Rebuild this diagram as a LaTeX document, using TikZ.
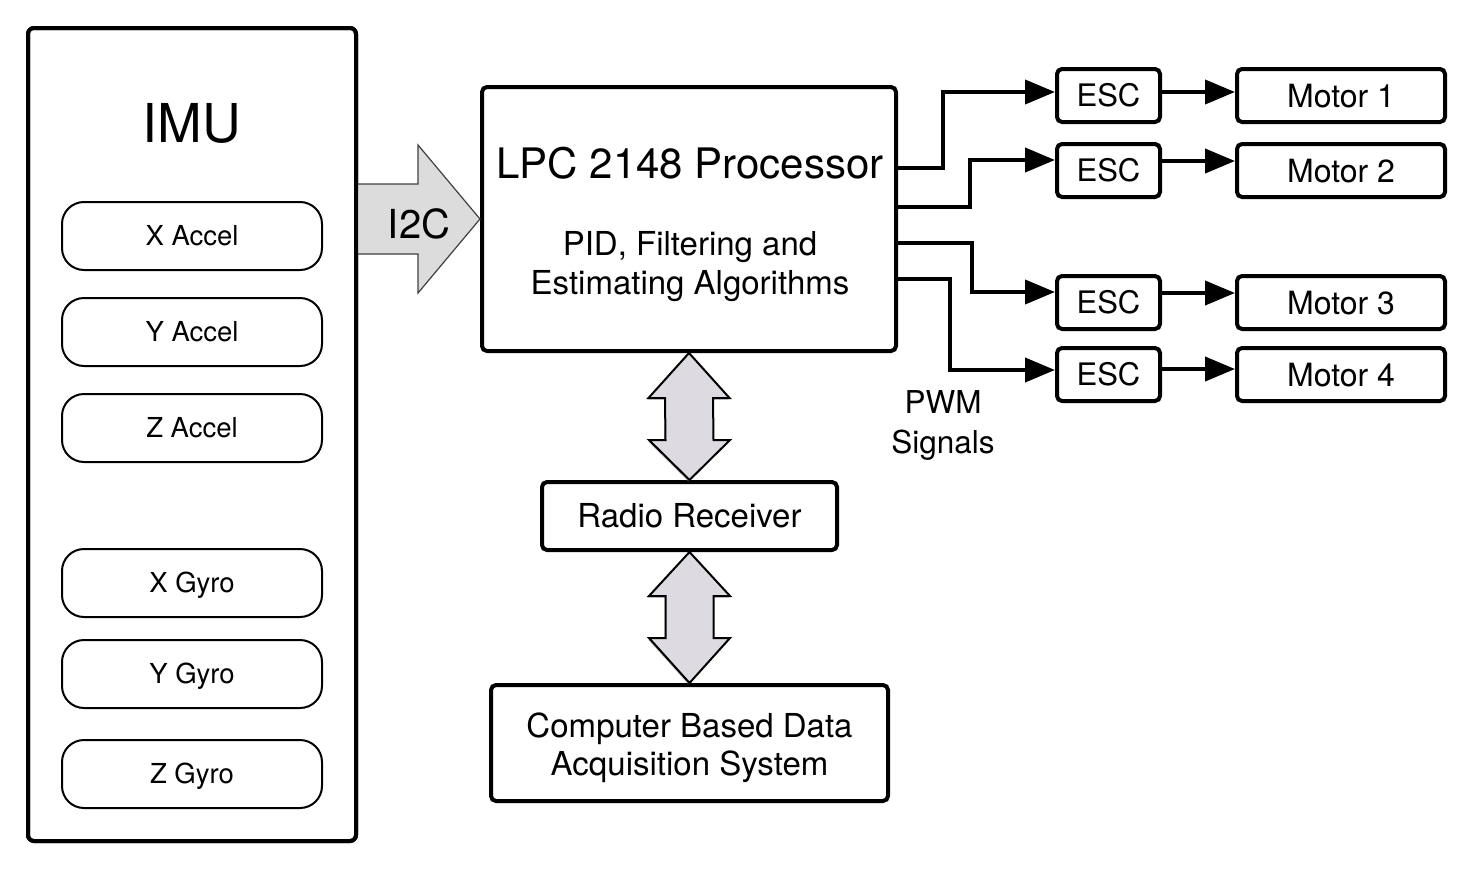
\documentclass[tikz,border=0pt]{standalone}
\usepackage{fontspec}
\setmainfont{TeX Gyre Heros}
\usetikzlibrary{arrows.meta,calc,shadows}
\definecolor{dblfill}{RGB}{221,218,226}
\definecolor{i2cfill}{RGB}{220,220,220}
\begin{document}
\begin{tikzpicture}[x=1pt,y=-1pt,
  blk/.style={draw, line width=4pt, rounded corners=5pt, inner sep=0pt, outer sep=2pt},
  sensor/.style={draw, line width=2pt, rounded corners=22pt, minimum width=260pt, minimum height=68pt,
     inner sep=0pt, outer sep=1pt, font=\fontsize{27.5}{33}\selectfont, text height=19.7pt, text depth=0pt},
  escbox/.style={blk, minimum width=103pt, minimum height=53pt, font=\fontsize{31}{37}\selectfont,
     text height=22.3pt, text depth=0pt},
  motorbox/.style={blk, minimum width=208pt, minimum height=53pt, font=\fontsize{32}{38}\selectfont,
     text height=23pt, text depth=0pt},
  txt/.style={inner sep=0pt, anchor=base},
  sig/.style={line width=4pt, -{Triangle[length=30pt,width=24pt]}},
  dbl/.style={draw, line width=2pt, fill=dblfill, line join=miter,
     drop shadow={shadow xshift=-1pt, shadow yshift=-1.5pt, fill=black!45, opacity=0.6}},
  i2cshape/.style={fill=i2cfill, draw=black!75, line width=1.2pt, line join=miter}]
\useasboundingbox (0,0) rectangle (1475,870);

% IMU
\node[blk, minimum width=328pt, minimum height=813pt, rounded corners=6pt] (imu) at (192,434.5) {};
\node[txt, font=\fontsize{53.6}{60}\selectfont] (imut) at (192,142) {IMU};
\node[sensor] (xa) at (192,236) {X Accel};
\node[sensor] (ya) at (192,332) {Y Accel};
\node[sensor] (za) at (192,428) {Z Accel};
\node[sensor] (xg) at (192,583) {X Gyro};
\node[sensor] (yg) at (192,674) {Y Gyro};
\node[sensor] (zg) at (192,774) {Z Gyro};

% Processor
\node[blk, minimum width=414pt, minimum height=264pt] (proc) at (689,219) {};
\node[txt, font=\fontsize{42}{48}\selectfont] (proct) at (690,178) {LPC 2148 Processor};
\node[txt, font=\fontsize{33}{39}\selectfont] (pid1) at (690,255) {PID, Filtering and};
\node[txt, font=\fontsize{33}{39}\selectfont] (pid2) at (690,294) {Estimating Algorithms};

% I2C arrow
\coordinate (ia) at (imu.east |- proc.west);
\draw[i2cshape] ($(ia)+(-2,-35)$) -- ($(proc.west)+(-62,-35)$) -- ($(proc.west)+(-62,-74)$)
  -- (proc.west) -- ($(proc.west)+(-62,74)$) -- ($(proc.west)+(-62,35)$) -- ($(ia)+(-2,35)$) -- cycle;
\node[blk, minimum width=328pt, minimum height=813pt, rounded corners=6pt] at (192,434.5) {};
\node[txt, font=\fontsize{40}{46}\selectfont] (i2c) at ($(proc.west)+(-61,19)$) {I2C};

% Radio and computer
\node[blk, minimum width=295pt, minimum height=68pt, font=\fontsize{33}{39}\selectfont,
  text height=23.7pt, text depth=0pt] (radio) at (689.5,516) {Radio Receiver};
\node[blk, minimum width=397pt, minimum height=116pt] (comp) at (689.5,743) {};
\node[txt, font=\fontsize{33}{39}\selectfont] (comp1) at (689.5,737) {Computer Based Data};
\node[txt, font=\fontsize{33}{39}\selectfont] (comp2) at (689.5,775) {Acquisition System};

% double arrows
\draw[dbl] (proc.south) -- ++(40.5,45) -- ++(-16.5,0) -- ($(radio.north)+(24,-40)$) -- ++(16.5,0)
  -- (radio.north) -- ++(-40.5,-40) -- ++(16.5,0) -- ($(proc.south)+(-24,45)$) -- ++(-16.5,0) -- cycle;
\draw[dbl] (radio.south) -- ++(40.5,44) -- ++(-16.5,0) -- ($(comp.north)+(24,-45)$) -- ++(16.5,0)
  -- (comp.north) -- ++(-40.5,-45) -- ++(16.5,0) -- ($(radio.south)+(-24,44)$) -- ++(-16.5,0) -- cycle;

% ESCs and motors
\node[escbox] (esc1) at (1108.5,95.5) {ESC};
\node[escbox] (esc2) at (1108.5,170.5) {ESC};
\node[escbox] (esc3) at (1108.5,302.5) {ESC};
\node[escbox] (esc4) at (1108.5,374.5) {ESC};
\node[motorbox] (mot1) at (1341,95.5) {Motor 1};
\node[motorbox] (mot2) at (1341,170.5) {Motor 2};
\node[motorbox] (mot3) at (1341,302.5) {Motor 3};
\node[motorbox] (mot4) at (1341,374.5) {Motor 4};

% PWM signals
\draw[sig] ([yshift=51pt]proc.east) -- ++(45,0) |- ([yshift=3.5pt]esc1.west);
\draw[sig] ([yshift=12pt]proc.east) -- ++(72,0) |- ([yshift=10.5pt]esc2.west);
\draw[sig] ([yshift=-24pt]proc.east) -- ++(74,0) |- ([yshift=10.5pt]esc3.west);
\draw[sig] ([yshift=-60pt]proc.east) -- ++(52,0) |- ([yshift=4.5pt]esc4.west);

\draw[sig] ([yshift=3.5pt]esc1.east) -- ([yshift=3.5pt]mot1.west);
\draw[sig] ([yshift=9.5pt]esc2.east) -- ([yshift=9.5pt]mot2.west);
\draw[sig] ([yshift=9.5pt]esc3.east) -- ([yshift=9.5pt]mot3.west);
\draw[sig] ([yshift=5.5pt]esc4.east) -- ([yshift=5.5pt]mot4.west);

\node[txt, font=\fontsize{31.5}{38}\selectfont] (pwm1) at (943,413) {PWM};
\node[txt, font=\fontsize{31.5}{38}\selectfont] (pwm2) at (943,453) {Signals};
\end{tikzpicture}
\end{document}
